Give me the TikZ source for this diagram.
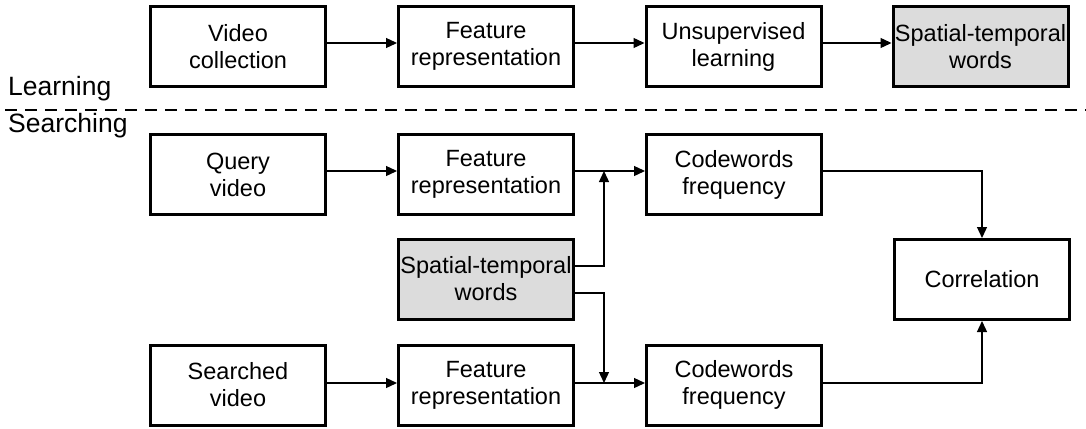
\documentclass[tikz,border=0pt]{standalone}
\usepackage{fontspec}
\setmainfont{Liberation Sans}
\usetikzlibrary{arrows.meta,calc}
\definecolor{boxgray}{HTML}{DCDCDC}
\begin{document}
\begin{tikzpicture}[x=1pt,y=-1pt,
  box/.style={draw, line width=3pt, minimum width=175pt, minimum height=80pt, inner sep=0pt, align=center, font=\fontsize{23.5}{27}\selectfont},
  graybox/.style={box, fill=boxgray},
  arr/.style={line width=1.3pt, -{Triangle[length=11pt,width=10pt]}},
  lbl/.style={anchor=base west, inner sep=0pt, font=\fontsize{26.5}{30}\selectfont}]
\useasboundingbox (0,0) rectangle (1086,428);
% learning row
\node[box] (vc) at (238,46.5) {Video\\collection};
\node[box] (fr0) at (486,46.5) {Feature\\representation};
\node[box] (ul) at (733.5,46.5) {Unsupervised\\learning};
\node[graybox] (stw0) at (980.5,46.5) {Spatial-temporal\\words};
% searching
\node[box] (qv) at (238,174.5) {Query\\video};
\node[box] (fr1) at (486,174.5) {Feature\\representation};
\node[box] (cf1) at (734,174.5) {Codewords\\frequency};
\node[graybox] (stw) at (486,279) {Spatial-temporal\\words};
\node[box] (corr) at (982,279.5) {Correlation};
\node[box] (sv) at (238,385) {Searched\\video};
\node[box] (fr2) at (486,385) {Feature\\representation};
\node[box] (cf2) at (734,385) {Codewords\\frequency};
% labels
\node[lbl] (learn) at (8,95) {Learning};
\node[lbl] (search) at (8,132.5) {Searching};
\coordinate (dl) at (5,110);
\coordinate (dr) at (1086,110);
\draw[line width=2pt, dash pattern=on 12pt off 8pt] (dl) -- (dr);
% arrows
\draw[arr] ([yshift=3.5pt]vc.east) -- ([yshift=3.5pt]fr0.west);
\draw[arr] ([yshift=3.5pt]fr0.east) -- ([yshift=3.5pt]ul.west);
\draw[arr] ([yshift=3.5pt]ul.east) -- ([yshift=3.5pt]stw0.west);
\draw[arr] ([yshift=3.5pt]qv.east) -- ([yshift=3.5pt]fr1.west);
\draw[arr] ([yshift=3.5pt]fr1.east) -- ([yshift=3.5pt]cf1.west);
\draw[arr] ([yshift=2pt]sv.east) -- ([yshift=2pt]fr2.west);
\draw[arr] ([yshift=2pt]fr2.east) -- ([yshift=2pt]cf2.west);
\coordinate (j1) at (604,171);
\coordinate (j2) at (604,383);
\draw[arr] ([yshift=13pt]stw.east) -| (j1);
\draw[arr] ([yshift=-14pt]stw.east) -| (j2);
\draw[arr] ([yshift=3.5pt]cf1.east) -| (corr.north);
\draw[arr] ([yshift=2pt]cf2.east) -| (corr.south);
\end{tikzpicture}
\end{document}
